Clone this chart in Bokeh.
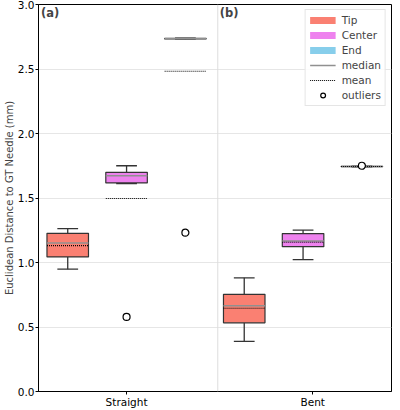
from bokeh.plotting import figure
from bokeh.models import FixedTicker, PrintfTickFormatter, Span, Label, Legend, LegendItem
from bokeh.embed import file_html
from bokeh.resources import INLINE

# ---- data ----
groups = ["Straight", "Bent"]
parts = ["Tip", "Center", "End"]
colors = ["#FA8072", "#EE82EE", "#87CEEB"]

# each list: [Straight, Bent]
tip_q1 = [1.043, 0.532]
tip_med = [1.151, 0.665]
tip_q3 = [1.226, 0.753]
tip_lo = [0.948, 0.388]
tip_hi = [1.262, 0.881]
tip_mean = [1.131, 0.645]
tip_out = [[], []]

center_q1 = [1.617, 1.123]
center_med = [1.673, 1.167]
center_q3 = [1.699, 1.224]
center_lo = [1.611, 1.023]
center_hi = [1.750, 1.251]
center_mean = [1.496, 1.157]
center_out = [[0.578], []]

end_q1 = [2.733, 1.743]
end_med = [2.735, 1.744]
end_q3 = [2.737, 1.745]
end_lo = [2.731, 1.742]
end_hi = [2.740, 1.746]
end_mean = [2.482, 1.744]
end_out = [[1.231], [1.750]]

stats = {
    "Tip": (tip_q1, tip_med, tip_q3, tip_lo, tip_hi, tip_mean, tip_out),
    "Center": (center_q1, center_med, center_q3, center_lo, center_hi, center_mean, center_out),
    "End": (end_q1, end_med, end_q3, end_lo, end_hi, end_mean, end_out),
}

# ---- layout ----
group_pos = [0.0, 0.948]
spacing = 0.316
box_w = 0.223
cap_w = box_w / 2

FONT = "DejaVu Sans"

p = figure(width=400, height=410, output_backend="svg", toolbar_location=None,
           x_range=(-0.473, 1.423), y_range=(0.0, 3.0),
           min_border_left=36, min_border_right=9, min_border_top=4, min_border_bottom=15)

p.background_fill_color = "white"
p.outline_line_color = "black"
p.outline_line_width = 1

p.xgrid.visible = False
p.ygrid.grid_line_color = "#e6e6e6"
p.ygrid.grid_line_width = 1
p.ygrid.ticker = FixedTicker(ticks=[0.0, 0.5, 1.0, 1.5, 2.0, 2.5, 3.0])

p.add_layout(Span(location=0.49, dimension="height", line_color="#dddddd", line_width=1))

box_line = "#333333"
for k, part in enumerate(parts):
    q1, med, q3, lo, hi, mean, outs = stats[part]
    xs = [group_pos[g] + (k - 1) * spacing for g in range(len(groups))]
    # whiskers
    p.segment(x0=xs, y0=q3, x1=xs, y1=hi, line_color=box_line, line_width=1.3)
    p.segment(x0=xs, y0=q1, x1=xs, y1=lo, line_color=box_line, line_width=1.3)
    p.segment(x0=[x - cap_w / 2 for x in xs], y0=hi, x1=[x + cap_w / 2 for x in xs], y1=hi,
              line_color=box_line, line_width=1.3)
    p.segment(x0=[x - cap_w / 2 for x in xs], y0=lo, x1=[x + cap_w / 2 for x in xs], y1=lo,
              line_color=box_line, line_width=1.3)
    # box
    p.vbar(x=xs, bottom=q1, top=q3, width=box_w, fill_color=colors[k],
           line_color=box_line, line_width=1.2)
    # median
    p.segment(x0=[x - box_w / 2 for x in xs], y0=med, x1=[x + box_w / 2 for x in xs], y1=med,
              line_color="#909090", line_width=1.6)
    # mean
    p.segment(x0=[x - box_w / 2 for x in xs], y0=mean, x1=[x + box_w / 2 for x in xs], y1=mean,
              line_color="black", line_width=1.1, line_dash="1 1")
    # outliers
    ox, oy = [], []
    for g in range(len(groups)):
        for v in outs[g]:
            ox.append(xs[g])
            oy.append(v)
    if ox:
        p.scatter(x=ox, y=oy, marker="circle", size=7, fill_color="white",
                  line_color="black", line_width=1.2)

# legend (proxy renderers placed outside the visible range)
hx = [-9.0, -8.0]
hy = [-9.0, -9.0]
items = []
for k, part in enumerate(parts):
    r = p.line(x=hx, y=hy, line_color=colors[k], line_width=7)
    items.append(LegendItem(label=part, renderers=[r]))
r_med = p.line(x=hx, y=hy, line_color="#909090", line_width=1.6)
items.append(LegendItem(label="median", renderers=[r_med]))
r_mean = p.line(x=hx, y=hy, line_color="black", line_width=1.1, line_dash="1 1")
items.append(LegendItem(label="mean", renderers=[r_mean]))
r_out = p.scatter(x=hx[:1], y=hy[:1], marker="circle", size=7, fill_color="white",
                  line_color="black", line_width=1.2)
items.append(LegendItem(label="outliers", renderers=[r_out]))

legend = Legend(items=items, location="top_right")
legend.label_text_font = FONT
legend.label_text_font_size = "10.5px"
legend.glyph_width = 26
legend.glyph_height = 12
legend.spacing = 3
legend.padding = 4
legend.margin = 5
legend.label_standoff = 6
legend.label_height = 12
legend.border_line_color = "#cccccc"
legend.border_line_width = 1
legend.background_fill_alpha = 0.85
p.add_layout(legend)

# panel labels
p.add_layout(Label(x=-0.46, y=2.985, text="(a)", text_font=FONT, text_font_style="bold",
                   text_font_size="11.5px", text_baseline="top"))
p.add_layout(Label(x=0.50, y=2.985, text="(b)", text_font=FONT, text_font_style="bold",
                   text_font_size="11.5px", text_baseline="top"))

# axes
p.xaxis.ticker = FixedTicker(ticks=[0, 1])
p.xaxis.major_label_overrides = {0: groups[0], 1: groups[1]}
p.yaxis.ticker = FixedTicker(ticks=[0.0, 0.5, 1.0, 1.5, 2.0, 2.5, 3.0])
p.yaxis.formatter = PrintfTickFormatter(format="%.1f")
p.yaxis.axis_label = "Euclidean Distance to GT Needle (mm)"
for ax in (p.xaxis, p.yaxis):
    ax.axis_line_color = "black"
    ax.major_tick_line_color = "black"
    ax.major_tick_out = 3
    ax.major_tick_in = 0
    ax.minor_tick_line_color = None
    ax.major_label_text_font = FONT
    ax.major_label_text_font_size = "10.5px"
    ax.major_label_text_color = "black"
    ax.major_label_standoff = 1
p.yaxis.axis_label_text_font = FONT
p.yaxis.axis_label_text_font_size = "10px"
p.yaxis.axis_label_text_font_style = "normal"
p.yaxis.axis_label_standoff = 0

open("out.html", "w").write(file_html(p, INLINE))
